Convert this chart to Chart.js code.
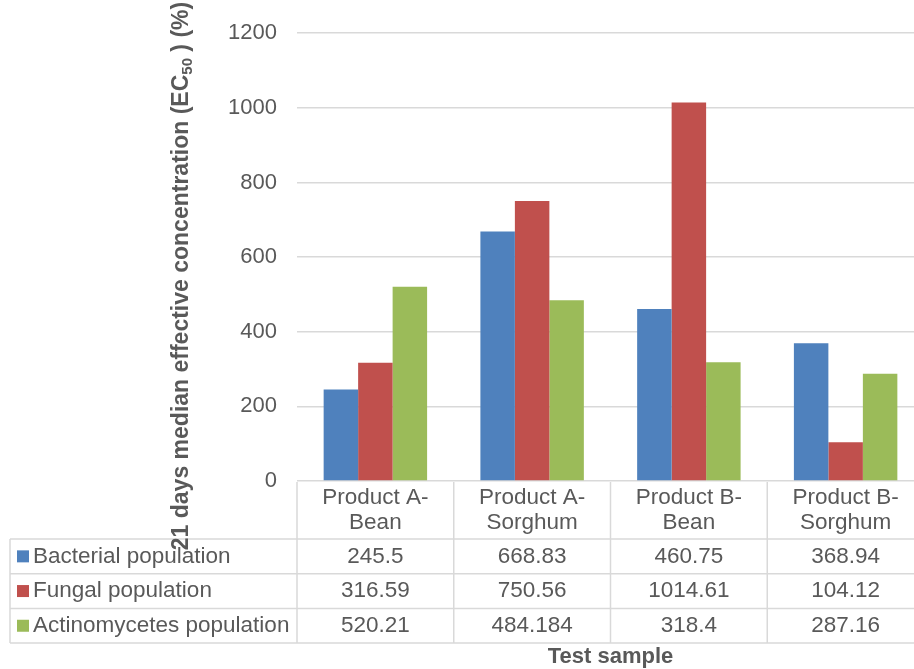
<!DOCTYPE html>
<html>
<head>
<meta charset="utf-8">
<script src="https://cdn.jsdelivr.net/npm/chart.js@4"></script>
<style>
  body { margin: 0; overflow: hidden; background: #fff; }
  #wrap { width: 924px; height: 669px; }
</style>
</head>
<body>
<div id="wrap"><canvas id="myChart" width="924" height="669"></canvas></div>
<script>
var categories = [['Product A-', 'Bean'], ['Product A-', 'Sorghum'], ['Product B-', 'Bean'], ['Product B-', 'Sorghum']];
var seriesNames = ['Bacterial population', 'Fungal population', 'Actinomycetes population'];
var bacterial = [245.5, 668.83, 460.75, 368.94];
var fungal = [316.59, 750.56, 1014.61, 104.12];
var actino = [520.21, 484.184, 318.4, 287.16];
// table shows the numbers as written in the source
var bacterialText = ['245.5', '668.83', '460.75', '368.94'];
var fungalText = ['316.59', '750.56', '1014.61', '104.12'];
var actinoText = ['520.21', '484.184', '318.4', '287.16'];
var yTicks = [0, 200, 400, 600, 800, 1000, 1200];

var colors = ['#4f81bd', '#c0504d', '#9bbb59'];
var textColor = '#595959';
var lineColor = '#d9d9d9';
var fontFam = '"Liberation Sans", Arial, sans-serif';

var tablePlugin = {
    id: 'dataTable',
    afterDraw: function(chart) {
        var ctx = chart.ctx;
        var area = chart.chartArea;
        var xs = chart.scales.x;
        var left = 10;
        var top = area.bottom + 1;
        var headH = 57;
        var rowH = 34.7;
        var colW = (area.right - area.left) / categories.length;
        var rows = [bacterialText, fungalText, actinoText];
        var bottom = top + headH + rowH * rows.length;

        ctx.save();
        ctx.strokeStyle = lineColor;
        ctx.lineWidth = 1.5;
        ctx.beginPath();
        // verticals
        for (var i = 0; i <= categories.length; i++) {
            var x = area.left + colW * i;
            ctx.moveTo(x, top);
            ctx.lineTo(x, bottom);
        }
        ctx.moveTo(left, top + headH);
        ctx.lineTo(left, bottom);
        // horizontals
        for (var r = 0; r <= rows.length; r++) {
            var y = top + headH + rowH * r;
            ctx.moveTo(left, y);
            ctx.lineTo(area.right, y);
        }
        ctx.stroke();

        ctx.fillStyle = textColor;
        ctx.font = '22.5px ' + fontFam;
        ctx.textAlign = 'center';
        ctx.textBaseline = 'middle';
        for (var c = 0; c < categories.length; c++) {
            var cx = xs.getPixelForValue(c);
            ctx.fillText(categories[c][0], cx, top + 16);
            ctx.fillText(categories[c][1], cx, top + 41);
            for (var k = 0; k < rows.length; k++) {
                ctx.fillText(rows[k][c], cx, top + headH + rowH * k + rowH / 2);
            }
        }

        ctx.textAlign = 'left';
        for (var s = 0; s < seriesNames.length; s++) {
            var cy = top + headH + rowH * s + rowH / 2;
            ctx.fillStyle = colors[s];
            ctx.fillRect(17, cy - 6, 12, 12);
            ctx.fillStyle = textColor;
            ctx.fillText(seriesNames[s], 33, cy);
        }

        // x title
        ctx.font = 'bold 22px ' + fontFam;
        ctx.textAlign = 'center';
        ctx.fillText('Test sample', (area.left + area.right) / 2, 657);

        // y title with subscript
        ctx.translate(area.left - 115, 276);
        ctx.rotate(-Math.PI / 2);
        var part1 = '21 days median effective concentration (EC';
        var sub = '50';
        var part2 = ' ) (%)';
        ctx.font = 'bold 23px ' + fontFam;
        var w1 = ctx.measureText(part1).width;
        var w3 = ctx.measureText(part2).width;
        ctx.font = 'bold 15px ' + fontFam;
        var w2 = ctx.measureText(sub).width;
        var x0 = -(w1 + w2 + w3) / 2;
        ctx.textAlign = 'left';
        ctx.font = 'bold 23px ' + fontFam;
        ctx.fillText(part1, x0, 0);
        ctx.font = 'bold 15px ' + fontFam;
        ctx.fillText(sub, x0 + w1, 6);
        ctx.font = 'bold 23px ' + fontFam;
        ctx.fillText(part2, x0 + w1 + w2, 0);
        ctx.restore();
    }
};

var ctx = document.getElementById('myChart').getContext('2d');
var chart = new Chart(ctx, {
    type: 'bar',
    data: {
        labels: categories.map(function(c) { return c.join(' '); }),
        datasets: [
            { label: seriesNames[0], data: bacterial, backgroundColor: colors[0] },
            { label: seriesNames[1], data: fungal, backgroundColor: colors[1] },
            { label: seriesNames[2], data: actino, backgroundColor: colors[2] }
        ]
    },
    options: {
        responsive: false,
        animation: false,
        layout: { padding: { top: 27, bottom: 188, right: 0, left: 0 } },
        datasets: { bar: { barPercentage: 1, categoryPercentage: 0.66 } },
        plugins: { legend: { display: false }, tooltip: { enabled: false } },
        scales: {
            x: { display: false },
            y: {
                min: 0,
                max: 1200,
                afterBuildTicks: function(s) { s.ticks = yTicks.map(function(v) { return { value: v }; }); },
                afterFit: function(s) { s.width = 297; },
                border: { display: false },
                grid: { color: lineColor, lineWidth: 1.5, drawTicks: false },
                ticks: {
                    color: textColor,
                    font: { size: 22, family: fontFam },
                    padding: 20,
                    callback: function(v) { return String(v); }
                }
            }
        }
    },
    plugins: [tablePlugin]
});
</script>
</body>
</html>
